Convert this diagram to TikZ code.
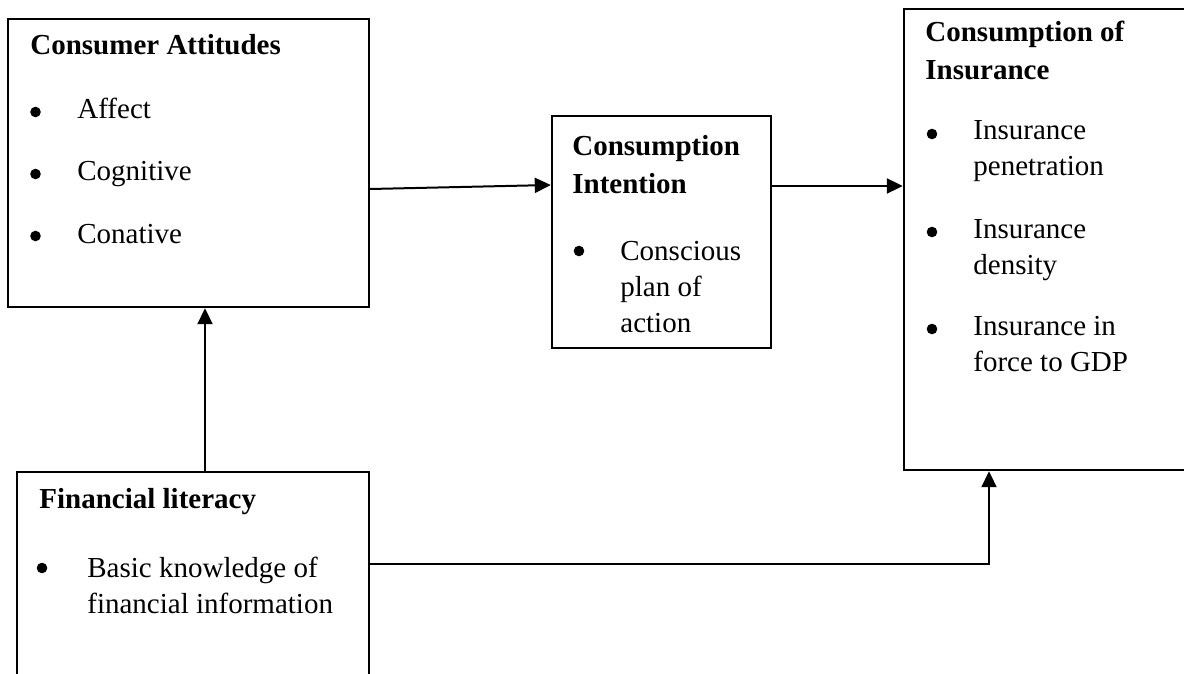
\documentclass[tikz,border=0pt]{standalone}
\usepackage{fontspec}
\setmainfont{Liberation Serif}
\usetikzlibrary{arrows.meta}

\tikzset{
  box/.style={draw, line width=1.2pt, inner sep=0pt},
  title/.style={anchor=base west, inner sep=0pt, align=left,
    font=\fontsize{14.5}{19}\selectfont\bfseries},
  item/.style={anchor=base west, inner sep=0pt, align=left,
    font=\fontsize{14.5}{18}\selectfont},
  dot/.style={circle, fill, inner sep=0pt, minimum size=5.3pt},
  link/.style={line width=1pt, -{Triangle[length=8pt,width=7.5pt]}}
}

\begin{document}
\begin{tikzpicture}[x=0.5pt, y=-0.5pt]

\clip (0,0) rectangle (1184,674);

% Boxes
\node [box, minimum width=180.5pt, minimum height=144pt] (A) at (188.5,163){};
\node [box, minimum width=109.5pt, minimum height=116pt] (B) at (661.5,232){};
\node [box, minimum width=158pt, minimum height=230.5pt] (C) at (1062,239.5){};
\node [box, minimum width=176pt, minimum height=124pt] (D) at (193,596){};

% Consumer Attitudes (multi-line texts sit on their last baseline)
\node [title] (At) at (30,55) {Consumer Attitudes};
\node [dot] (Ab1) at (35.5,112) {};
\node [item] (Ai1) at (77,119) {Affect};
\node [dot] (Ab2) at (35.5,174) {};
\node [item] (Ai2) at (77,181) {Cognitive};
\node [dot] (Ab3) at (35.5,236) {};
\node [item] (Ai3) at (77,243) {Conative};

% Consumption Intention
\node [title] (Bt) at (572,193) {Consumption\\Intention};
\node [dot] (Bb1) at (579,251) {};
\node [item] (Bi1) at (620,332) {Conscious\\plan of\\action};

% Consumption of Insurance
\node [title] (Ct) at (925,80) {Consumption of\\Insurance};
\node [dot] (Cb1) at (932,134) {};
\node [item] (Ci1) at (973,176) {Insurance\\penetration};
\node [dot] (Cb2) at (932,232) {};
\node [item] (Ci2) at (973,274) {Insurance\\density};
\node [dot] (Cb3) at (932,329) {};
\node [item] (Ci3) at (973,371) {Insurance in\\force to GDP};

% Financial literacy
\node [title] (Dt) at (39,508) {Financial literacy};
\node [dot] (Db1) at (42,568) {};
\node [item] (Di1) at (87,613) {Basic knowledge of\\financial information};

% Links
\draw [link] ([yshift=-13pt]A.east) -- ([yshift=23.5pt]B.west);
\draw [link] ([yshift=23pt]B.east) -- ([yshift=23pt]B.east -| C.west);
\draw [link] ([xshift=6pt]D.north) -- ([xshift=6pt]D.north |- A.south);
\draw [link] ([yshift=16pt]D.east) -| ([xshift=-36.5pt]C.south);

\end{tikzpicture}
\end{document}
